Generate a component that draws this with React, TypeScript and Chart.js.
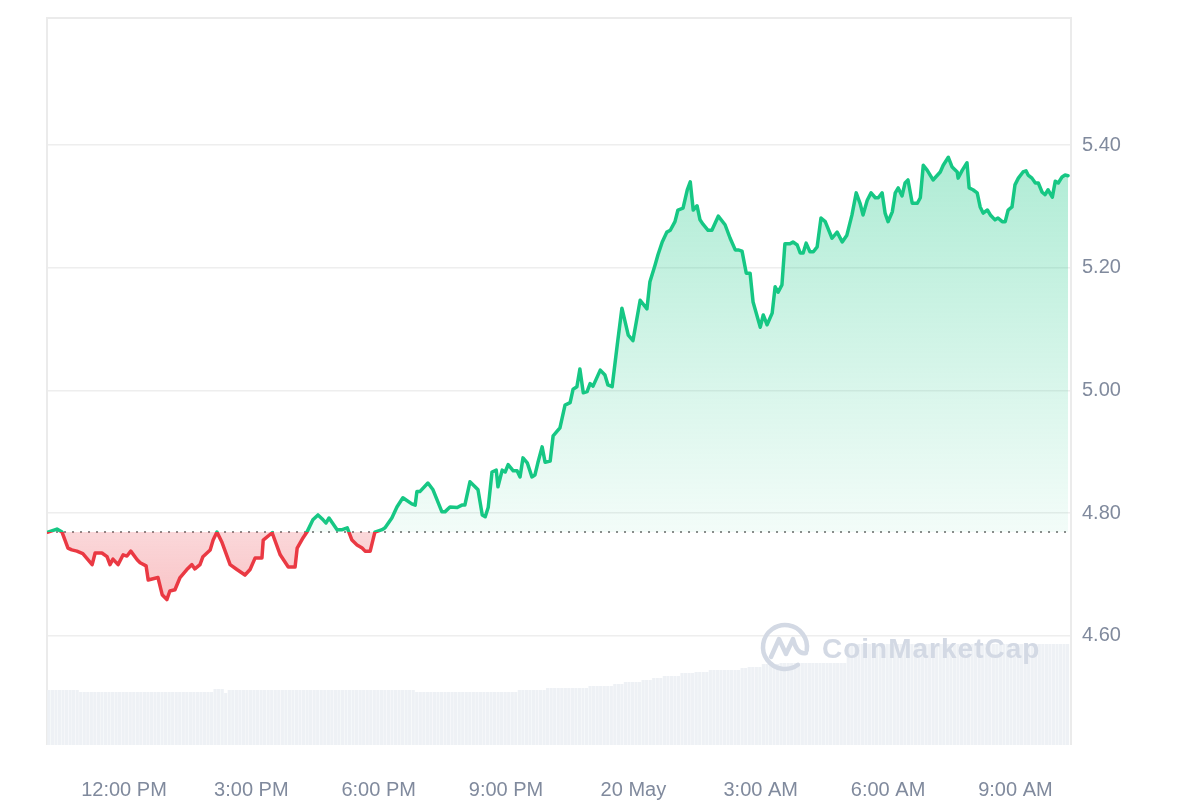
import React, { useEffect, useRef } from "react";
import { Chart, registerables } from "chart.js";

Chart.register(...registerables);

// Hours relative to 12:00 PM (19 May); negative = before noon
const priceTimes = [
  -1.79, -1.58, -1.46, -1.32, -1.23, -1.11, -0.97, -0.75, -0.68, -0.52,
  -0.40, -0.33, -0.26, -0.14, -0.02, 0.07, 0.16, 0.31, 0.38, 0.52,
  0.57, 0.80, 0.90, 1.01, 1.08, 1.20, 1.32, 1.48, 1.60, 1.67,
  1.79, 1.86, 2.03, 2.10, 2.19, 2.31, 2.50, 2.66, 2.85, 2.97,
  3.09, 3.25, 3.28, 3.49, 3.68, 3.87, 4.03, 4.08, 4.22, 4.31,
  4.45, 4.57, 4.69, 4.76, 4.83, 5.02, 5.14, 5.26, 5.37, 5.49,
  5.61, 5.68, 5.80, 5.91, 6.08, 6.15, 6.31, 6.43, 6.57, 6.78,
  6.86, 6.90, 6.97, 7.16, 7.28, 7.49, 7.56, 7.68, 7.85, 7.96,
  8.03, 8.15, 8.27, 8.34, 8.44, 8.51, 8.58, 8.67, 8.77, 8.81,
  8.91, 8.98, 9.05, 9.17, 9.26, 9.33, 9.40, 9.50, 9.61, 9.68,
  9.75, 9.85, 9.92, 10.04, 10.11, 10.27, 10.39, 10.51, 10.58, 10.67,
  10.74, 10.82, 10.91, 10.98, 11.05, 11.22, 11.33, 11.40, 11.50, 11.62,
  11.73, 11.88, 11.99, 12.16, 12.32, 12.39, 12.51, 12.58, 12.68, 12.79,
  12.87, 12.98, 13.05, 13.17, 13.27, 13.34, 13.41, 13.50, 13.57, 13.64,
  13.76, 13.85, 14.00, 14.16, 14.28, 14.40, 14.47, 14.56, 14.66, 14.75,
  14.82, 14.99, 15.06, 15.15, 15.27, 15.34, 15.41, 15.50, 15.57, 15.69,
  15.76, 15.86, 15.93, 16.00, 16.07, 16.16, 16.24, 16.33, 16.42, 16.52,
  16.68, 16.80, 16.92, 17.03, 17.15, 17.25, 17.34, 17.41, 17.51, 17.60,
  17.70, 17.77, 17.86, 17.93, 18.00, 18.10, 18.17, 18.24, 18.33, 18.40,
  18.47, 18.57, 18.69, 18.76, 18.83, 18.92, 19.06, 19.23, 19.30, 19.42,
  19.51, 19.63, 19.65, 19.75, 19.86, 19.91, 20.00, 20.10, 20.17, 20.24,
  20.34, 20.41, 20.52, 20.59, 20.69, 20.76, 20.83, 20.92, 20.99, 21.07,
  21.18, 21.25, 21.30, 21.39, 21.47, 21.54, 21.63, 21.70, 21.77, 21.87,
  21.94, 22.01, 22.10, 22.17, 22.24,
];

const prices = [
  4.769, 4.774, 4.769, 4.743, 4.740, 4.738, 4.734, 4.716, 4.735, 4.735,
  4.729, 4.716, 4.725, 4.716, 4.732, 4.730, 4.738, 4.724, 4.719, 4.714,
  4.691, 4.695, 4.667, 4.659, 4.673, 4.675, 4.695, 4.708, 4.716, 4.709,
  4.716, 4.729, 4.740, 4.756, 4.769, 4.752, 4.716, 4.708, 4.699, 4.708,
  4.727, 4.727, 4.756, 4.768, 4.732, 4.712, 4.712, 4.743, 4.760, 4.769,
  4.789, 4.797, 4.789, 4.784, 4.792, 4.773, 4.773, 4.776, 4.756, 4.748,
  4.743, 4.738, 4.738, 4.769, 4.773, 4.776, 4.792, 4.810, 4.825, 4.815,
  4.813, 4.835, 4.835, 4.849, 4.838, 4.802, 4.802, 4.810, 4.809, 4.813,
  4.813, 4.851, 4.843, 4.838, 4.797, 4.794, 4.809, 4.867, 4.870, 4.843,
  4.870, 4.867, 4.879, 4.869, 4.869, 4.859, 4.890, 4.882, 4.859, 4.862,
  4.882, 4.908, 4.883, 4.885, 4.926, 4.939, 4.976, 4.980, 5.002, 5.006,
  5.035, 4.996, 4.998, 5.011, 5.007, 5.033, 5.025, 5.009, 5.006, 5.074,
  5.134, 5.090, 5.081, 5.147, 5.133, 5.177, 5.204, 5.221, 5.242, 5.258,
  5.261, 5.275, 5.294, 5.297, 5.327, 5.340, 5.294, 5.301, 5.278, 5.271,
  5.261, 5.261, 5.284, 5.270, 5.248, 5.229, 5.229, 5.227, 5.191, 5.191,
  5.144, 5.103, 5.123, 5.107, 5.126, 5.169, 5.160, 5.172, 5.239, 5.239,
  5.242, 5.237, 5.224, 5.224, 5.240, 5.226, 5.226, 5.234, 5.281, 5.275,
  5.248, 5.258, 5.242, 5.253, 5.286, 5.322, 5.305, 5.286, 5.310, 5.322,
  5.314, 5.314, 5.322, 5.289, 5.275, 5.291, 5.322, 5.330, 5.317, 5.338,
  5.343, 5.305, 5.305, 5.314, 5.367, 5.359, 5.343, 5.356, 5.367, 5.380,
  5.364, 5.356, 5.346, 5.359, 5.371, 5.330, 5.327, 5.322, 5.299, 5.289,
  5.294, 5.286, 5.278, 5.281, 5.275, 5.275, 5.294, 5.299, 5.335, 5.346,
  5.356, 5.358, 5.351, 5.346, 5.338, 5.338, 5.323, 5.319, 5.327, 5.315,
  5.341, 5.338, 5.348, 5.351, 5.350,
];

const openPrice = 4.769;

// 5-minute volume bars (relative units), first bar centred at this hour
const volumeStartHour = -1.77;
const volumes = [
  55, 55, 55, 55, 55, 55, 55, 55, 55, 53,
  53, 53, 53, 53, 53, 53, 53, 53, 53, 53,
  53, 53, 53, 53, 53, 53, 53, 53, 53, 53,
  53, 53, 53, 53, 53, 53, 53, 53, 53, 53,
  53, 53, 53, 53, 53, 53, 53, 56, 56, 56,
  52, 55, 55, 55, 55, 55, 55, 55, 55, 55,
  55, 55, 55, 55, 55, 55, 55, 55, 55, 55,
  55, 55, 55, 55, 55, 55, 55, 55, 55, 55,
  55, 55, 55, 55, 55, 55, 55, 55, 55, 55,
  55, 55, 55, 55, 55, 55, 55, 55, 55, 55,
  55, 55, 55, 55, 53, 53, 53, 53, 53, 53,
  53, 53, 53, 53, 53, 53, 53, 53, 53, 53,
  53, 53, 53, 53, 53, 53, 53, 53, 53, 53,
  53, 53, 53, 55, 55, 55, 55, 55, 55, 55,
  55, 57, 57, 57, 57, 57, 57, 57, 57, 57,
  57, 57, 57, 59, 59, 59, 59, 59, 59, 59,
  61, 61, 61, 63, 63, 63, 63, 63, 65, 65,
  65, 67, 67, 67, 69, 69, 69, 69, 69, 72,
  72, 72, 72, 73, 73, 73, 73, 75, 75, 75,
  75, 75, 75, 75, 75, 75, 77, 77, 78, 78,
  78, 78, 81, 81, 81, 81, 81, 82, 82, 82,
  82, 82, 82, 82, 82, 82, 82, 82, 82, 82,
  82, 82, 82, 82, 82, 82, 101, 101, 101, 101,
  101, 101, 101, 101, 101, 101, 101, 101, 101, 101,
  101, 101, 101, 101, 101, 101, 101, 101, 101, 101,
  101, 101, 101, 101, 101, 101, 101, 101, 101, 101,
  101, 101, 101, 101, 101, 101, 101, 101, 101, 101,
  101, 101, 101, 101, 101, 101, 101, 101, 101, 101,
  101, 101, 101, 101, 101, 101, 101, 101, 101,
];

const xTickHours = [0, 3, 6, 9, 12, 15, 18, 21];
const xTickLabels = ["12:00 PM", "3:00 PM", "6:00 PM", "9:00 PM", "20 May", "3:00 AM", "6:00 AM", "9:00 AM"];
const yTickValues = [4.6, 4.8, 5.0, 5.2, 5.4];

const GREEN = "#16c784";
const RED = "#ea3943";
const LABEL = "#808a9d";
const FONT = '"Liberation Sans", Arial, sans-serif';

const framePlugin = {
  id: "frame",
  beforeDatasetsDraw(chart: any) {
    const { ctx, chartArea: a } = chart;
    ctx.save();
    ctx.strokeStyle = "#ebebeb";
    ctx.lineWidth = 2;
    ctx.beginPath();
    ctx.moveTo(a.left, a.bottom);
    ctx.lineTo(a.left, a.top);
    ctx.lineTo(a.right, a.top);
    ctx.lineTo(a.right, a.bottom);
    ctx.stroke();
    ctx.restore();
  },
  afterDatasetsDraw(chart: any) {
    const { ctx, chartArea: a } = chart;
    const cx = a.right - 286;
    const cy = a.bottom - 98;
    ctx.save();
    ctx.strokeStyle = "#d3d9e4";
    ctx.fillStyle = "#d3d9e4";
    ctx.lineWidth = 4.5;
    ctx.lineCap = "round";
    ctx.lineJoin = "round";
    ctx.beginPath();
    ctx.arc(cx, cy, 22, 0.3 * Math.PI, 2.05 * Math.PI);
    ctx.stroke();
    ctx.beginPath();
    ctx.moveTo(cx - 14, cy + 10);
    ctx.lineTo(cx - 6, cy - 8);
    ctx.lineTo(cx + 1, cy + 7);
    ctx.lineTo(cx + 8, cy - 8);
    ctx.quadraticCurveTo(cx + 12, cy + 8, cx + 21, cy + 6);
    ctx.stroke();
    ctx.font = "bold 28px " + FONT;
    (ctx as any).letterSpacing = "1px";
    ctx.textBaseline = "alphabetic";
    ctx.fillText("CoinMarketCap", a.right - 249, a.bottom - 87);
    ctx.restore();
  },
};

export default function App() {
  const ref = useRef<HTMLCanvasElement>(null);

  useEffect(() => {
    const canvas = ref.current;
    if (!canvas) return;
    const n = Math.min(priceTimes.length, prices.length);
    const priceData = Array.from({ length: n }, (_, i) => ({ x: priceTimes[i], y: prices[i] }));
    const volData = volumes.map((v, i) => ({ x: volumeStartHour + i / 12, y: v }));
    const baseData = [
      { x: priceTimes[0], y: openPrice },
      { x: priceTimes[n - 1], y: openPrice },
    ];

    const lineColor = (c: any) => {
      const chart = c.chart;
      const a = chart.chartArea;
      if (!a || !chart.scales.y) return GREEN;
      const yb = chart.scales.y.getPixelForValue(openPrice);
      const f = Math.min(1, Math.max(0, (yb - a.top) / (a.bottom - a.top)));
      const g = chart.ctx.createLinearGradient(0, a.top, 0, a.bottom);
      g.addColorStop(0, GREEN);
      g.addColorStop(f, GREEN);
      g.addColorStop(f, RED);
      g.addColorStop(1, RED);
      return g;
    };

    const fillFn = (c: any) => {
      const chart = c.chart;
      const a = chart.chartArea;
      if (!a || !chart.scales.y) {
        return { target: { value: openPrice }, above: "rgba(22,199,132,0.2)", below: "rgba(234,57,67,0.25)" };
      }
      const yb = chart.scales.y.getPixelForValue(openPrice);
      const ga = chart.ctx.createLinearGradient(0, a.top, 0, yb);
      ga.addColorStop(0, "rgba(22,199,132,0.45)");
      ga.addColorStop(1, "rgba(22,199,132,0.05)");
      const gb = chart.ctx.createLinearGradient(0, yb, 0, yb + 80);
      gb.addColorStop(0, "rgba(234,57,67,0.2)");
      gb.addColorStop(1, "rgba(234,57,67,0.32)");
      return { target: { value: openPrice }, above: ga, below: gb };
    };

    const chart = new Chart(canvas, {
      type: "line",
      data: {
        datasets: [
          {
            type: "line",
            label: "Price",
            data: priceData,
            order: 1,
            borderColor: lineColor,
            borderWidth: 3.5,
            borderJoinStyle: "round",
            borderCapStyle: "round",
            pointRadius: 0,
            tension: 0,
            fill: fillFn,
            xAxisID: "x",
            yAxisID: "y",
          } as any,
          {
            type: "line",
            label: "Open",
            data: baseData,
            order: 2,
            borderColor: "#8c8c8c",
            borderWidth: 2,
            borderDash: [2, 6],
            pointRadius: 0,
            fill: false,
            xAxisID: "x",
            yAxisID: "y",
          } as any,
          {
            type: "bar",
            label: "Volume",
            data: volData,
            order: 3,
            backgroundColor: "#eef1f5",
            borderWidth: 0,
            barPercentage: 0.9,
            categoryPercentage: 1,
            xAxisID: "x",
            yAxisID: "yv",
          } as any,
        ],
      },
      options: {
        responsive: false,
        animation: false,
        layout: { padding: { left: 47, top: 18, right: 0, bottom: 0 } },
        plugins: { legend: { display: false }, tooltip: { enabled: false } },
        scales: {
          x: {
            type: "linear",
            min: -1.814,
            max: 22.31,
            offset: false,
            grid: { display: false, drawTicks: false, offset: false },
            border: { display: false },
            afterBuildTicks: (s: any) => {
              s.ticks = xTickHours.map((v) => ({ value: v }));
            },
            afterFit: (s: any) => {
              s.height = 55;
              s.paddingLeft = 0;
              s.paddingRight = 0;
            },
            ticks: {
              autoSkip: false,
              maxRotation: 0,
              padding: 33,
              color: LABEL,
              font: { family: FONT, size: 20 },
              callback: (v: any) => {
                const i = xTickHours.indexOf(Number(v));
                return i >= 0 ? xTickLabels[i] : "";
              },
            },
          },
          y: {
            position: "right",
            min: 4.422,
            max: 5.607,
            grid: { color: "#eeeeee", lineWidth: 1.5, drawTicks: false },
            border: { display: false },
            afterBuildTicks: (s: any) => {
              s.ticks = yTickValues.map((v) => ({ value: v }));
            },
            afterFit: (s: any) => {
              s.width = 129;
              s.paddingTop = 0;
              s.paddingBottom = 0;
            },
            ticks: {
              padding: 11,
              color: LABEL,
              font: { family: FONT, size: 20 },
              callback: (v: any) => Number(v).toFixed(2),
            },
          },
          yv: {
            display: false,
            min: 0,
            max: 727,
          },
        },
      } as any,
      plugins: [framePlugin],
    });

    return () => chart.destroy();
  }, []);

  return (
    <div style={{ position: "absolute", left: 0, top: 0, width: 1200, height: 800, background: "#fff" }}>
      <canvas ref={ref} width={1200} height={800} style={{ display: "block" }} />
    </div>
  );
}
